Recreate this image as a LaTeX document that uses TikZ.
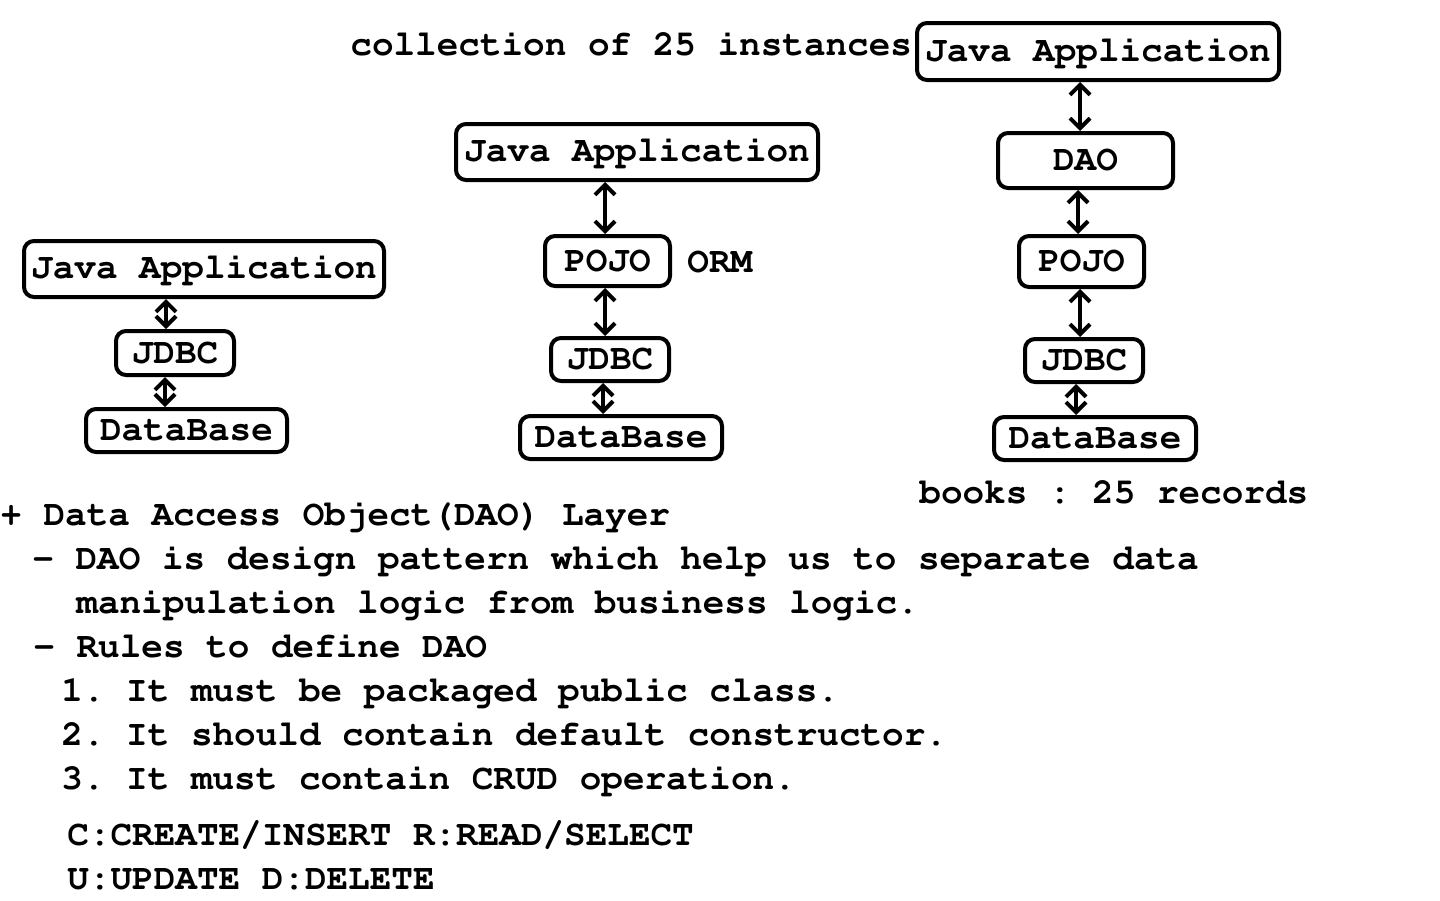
\documentclass[tikz,border=0pt]{standalone}
\usepackage[T1]{fontenc}
\usepackage{tikz}
\usetikzlibrary{arrows.meta}
\newcommand{\codefont}{\fontencoding{T1}\fontfamily{pcr}\fontseries{b}\fontsize{18}{22}\selectfont\frenchspacing}
\tikzset{
	layer/.style={draw, rounded corners=5pt, line width=2pt, inner sep=0pt, align=center, font=\codefont},
	link/.style={{Straight Barb[length=5pt,width=10pt]}-{Straight Barb[length=5pt,width=10pt]}, line width=2pt},
	note/.style={anchor=base west, inner sep=0pt, font=\codefont}
}
\begin{document}
\begin{tikzpicture}[x=0.5pt, y=-0.5pt]
	\useasboundingbox (0,0) rectangle (1440,900);
	
	%% -- Plain JDBC stack (left)
	\node[layer, minimum width=180pt, minimum height=28pt] (ja1) at (204,269) {Java Application};
	\node[layer, minimum width=59pt, minimum height=22pt] (jd1) at (175,353) {JDBC};
	\node[layer, minimum width=100.5pt, minimum height=21.5pt] (db1) at (186.5,430.5) {DataBase};
	
	\draw[link] (ja1.south -| 166,0) -- (jd1.north -| 166,0);
	\draw[link] (jd1.south -| 165,0) -- (db1.north -| 165,0);
	
	%% -- ORM stack (middle)
	\node[layer, minimum width=181pt, minimum height=28pt] (ja2) at (637,152) {Java Application};
	\node[layer, minimum width=62.5pt, minimum height=25pt] (po2) at (607.5,261) {POJO};
	\node[layer, minimum width=59pt, minimum height=21.5pt] (jd2) at (610,359.5) {JDBC};
	\node[layer, minimum width=101pt, minimum height=21.5pt] (db2) at (621,437.5) {DataBase};
	\node[note] (orm) at (687,272) {ORM};
	
	\draw[link] (ja2.south -| 605,0) -- (po2.north -| 605,0);
	\draw[link] (po2.south -| 605,0) -- (jd2.north -| 605,0);
	\draw[link] (jd2.south -| 603,0) -- (db2.north -| 603,0);
	
	%% -- DAO stack (right)
	\node[layer, minimum width=181pt, minimum height=28.5pt] (ja3) at (1098,51.5) {Java Application};
	\node[layer, minimum width=87.5pt, minimum height=27.5pt] (dao3) at (1085.5,160.5) {DAO};
	\node[layer, minimum width=62.5pt, minimum height=25.5pt] (po3) at (1081.5,261.5) {POJO};
	\node[layer, minimum width=59pt, minimum height=21.5pt] (jd3) at (1084,360.5) {JDBC};
	\node[layer, minimum width=101pt, minimum height=21.5pt] (db3) at (1095,438.5) {DataBase};
	
	\draw[link] (ja3.south -| 1080,0) -- (dao3.north -| 1080,0);
	\draw[link] (dao3.south -| 1078,0) -- (po3.north -| 1078,0);
	\draw[link] (po3.south -| 1080,0) -- (jd3.north -| 1080,0);
	\draw[link] (jd3.south -| 1076,0) -- (db3.north -| 1076,0);
	
	\node[note] (coll) at (350,55) {collection of 25 instances};
	\node[note] (books) at (919,503) {books : 25 records};
	
	%% -- Notes on the DAO layer
	\node[note] (t1) at (0,525) {+ Data Access Object(DAO) Layer};
	\node[note] (t2) at (32,569) {- DAO is design pattern which help us to separate data};
	\node[note] (t3) at (76,613) {manipulation logic from business logic.};
	\node[note] (t4) at (33,657) {- Rules to define DAO};
	\node[note] (r1) at (61,701) {1. It must be packaged public class.};
	\node[note] (r2) at (61,745) {2. It should contain default constructor.};
	\node[note] (r3) at (61,789) {3. It must contain CRUD operation.};
	\node[note] (crud1) at (67,845) {C:CREATE/INSERT R:READ/SELECT};
	\node[note] (crud2) at (67,889) {U:UPDATE D:DELETE};
	
\end{tikzpicture}
\end{document}
